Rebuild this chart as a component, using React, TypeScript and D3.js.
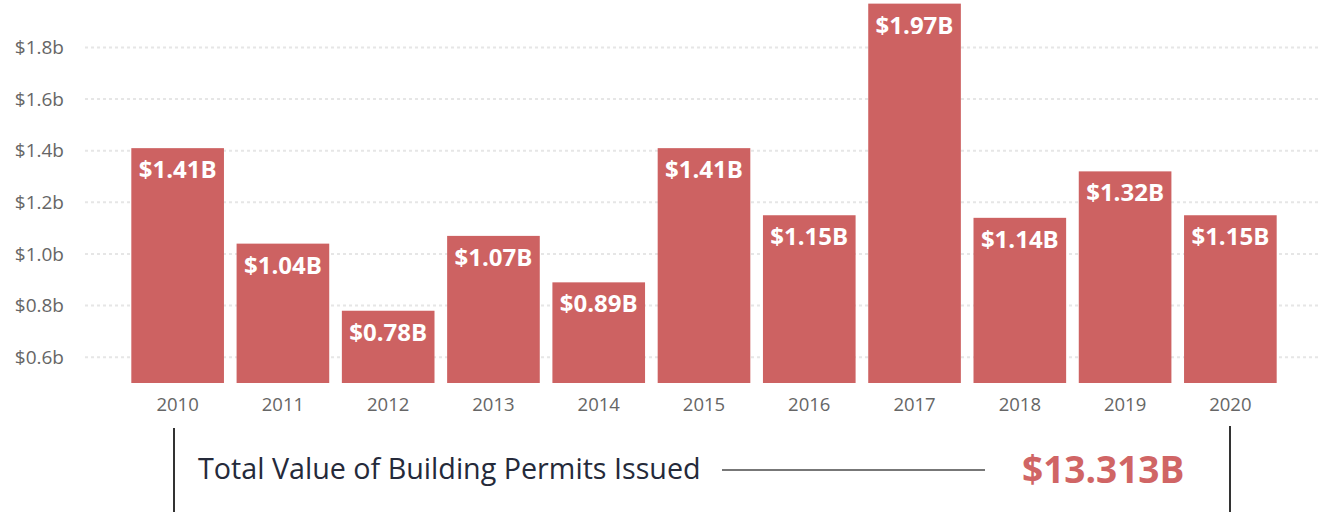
import React from "react";
import * as d3 from "d3";

const years = ["2010","2011","2012","2013","2014","2015","2016","2017","2018","2019","2020"];
const values = [1.41, 1.04, 0.78, 1.07, 0.89, 1.41, 1.15, 1.97, 1.14, 1.32, 1.15];
const valueLabels = ["$1.41B","$1.04B","$0.78B","$1.07B","$0.89B","$1.41B","$1.15B","$1.97B","$1.14B","$1.32B","$1.15B"];
const yTicks = [0.6, 0.8, 1.0, 1.2, 1.4, 1.6, 1.8];
const cardTitle = "Total Value of Building Permits Issued";
const cardValue = "$13.313B";

const W = 1318, H = 512;
const BAR = "#cd6262";

export default function App() {
  const x = d3.scaleBand<string>().domain(years).range([125, 1283]).paddingInner(0.12).paddingOuter(0.06);
  const y = d3.scaleLinear().domain([0.5, 1.8]).range([383, 47.5]);
  const font = "'Open Sans', 'Noto Sans', sans-serif";
  return (
    <svg width={W} height={H} style={{ position: "absolute", left: 0, top: 0, display: "block", background: "#fff" }}>
      <g>
        {yTicks.map((t) => (
          <g key={t}>
            <line x1={85} x2={W} y1={y(t)} y2={y(t)} stroke="#e6e6e6" strokeWidth={2} strokeDasharray="3,3" />
            <text x={64} y={y(t)} dy="0.35em" textAnchor="end" fontFamily={font} fontSize={19} fill="#666">
              {"$" + t.toFixed(1) + "b"}
            </text>
          </g>
        ))}
      </g>
      <g>
        {years.map((yr, i) => (
          <g key={yr}>
            <rect x={x(yr)} y={y(values[i])} width={x.bandwidth()} height={y(0.5) - y(values[i])} fill={BAR} />
            <text x={(x(yr) as number) + x.bandwidth() / 2} y={y(values[i]) + 30} textAnchor="middle"
              fontFamily={font} fontWeight={700} fontSize={24} fill="#fff">{valueLabels[i]}</text>
            <text x={(x(yr) as number) + x.bandwidth() / 2} y={411} textAnchor="middle"
              fontFamily={font} fontSize={18.5} fill="#666">{yr}</text>
          </g>
        ))}
      </g>
      <line x1={174} x2={174} y1={428} y2={H} stroke="#333" strokeWidth={2} />
      <line x1={1230} x2={1230} y1={426} y2={H} stroke="#333" strokeWidth={2} />
      <text x={198} y={479} fontFamily={font} fontSize={28.7} fill="#252a3a">{cardTitle}</text>
      <line x1={722} x2={985} y1={470} y2={470} stroke="#777" strokeWidth={2} />
      <text x={1022} y={483} fontFamily={font} fontWeight={700} fontSize={37} fill="#d06565">{cardValue}</text>
    </svg>
  );
}
